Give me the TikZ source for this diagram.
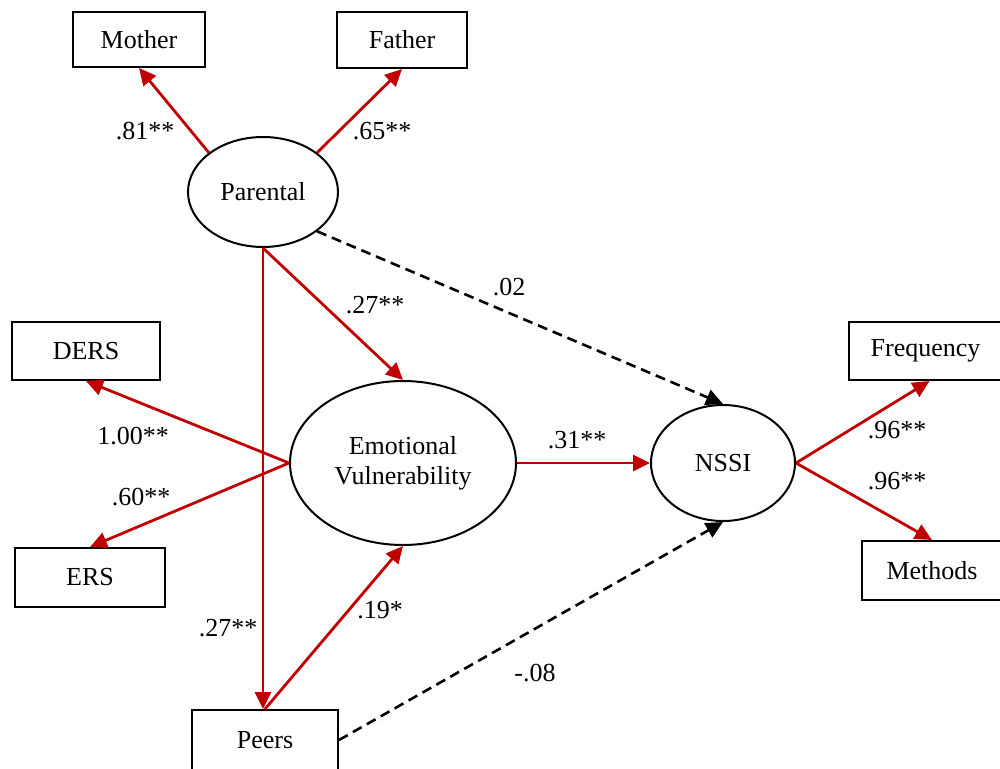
\documentclass[tikz,border=0pt]{standalone}
\usepackage{fontspec}
\setmainfont{Liberation Serif}
\usepackage{tikz}
\usetikzlibrary{shapes.geometric}
\usetikzlibrary{arrows.meta}
\usetikzlibrary{positioning}
\definecolor{SEM-RED}{RGB}{192,0,0}

\begin{document}
\begin{tikzpicture}[x=1pt,y=-1pt,every path/.style={>={Triangle[length=17pt,width=16pt]}},
		every node/.style={font=\fontsize{26}{30}\selectfont},
		obs/.style={draw,line width=2pt,inner sep=0pt},
		lat/.style={draw,ellipse,line width=2pt,inner sep=0pt,align=center},
		coef/.style={inner sep=0pt},
		sig/.style={->,SEM-RED,line width=2.8pt},
		nonsig/.style={->,black,line width=2.6pt,dash pattern=on 10pt off 6pt}]
			\useasboundingbox (0,0) rectangle (1000,768);
			\clip (0,0) rectangle (1000,768);
		
			% draw indicators
			\node (mother) at (139,39.5) [obs,minimum width=132pt,minimum height=55pt] {Mother};
			\node (father) at (402,40) [obs,minimum width=130pt,minimum height=56pt] {Father};
			\node (ders) at (86,351) [obs,minimum width=148pt,minimum height=58pt] {DERS};
			\node (ers) at (90,577.5) [obs,minimum width=150pt,minimum height=59pt] {ERS};
			\node (peers) at (265,740) [obs,minimum width=146pt,minimum height=60pt] {Peers};
			\node (freq) at (925.5,351) [obs,minimum width=153pt,minimum height=58pt] {Frequency};
			\node (methods) at (932,570.5) [obs,minimum width=140pt,minimum height=59pt] {Methods};
		
			% draw latent variables
			\node (parental) at (263,192) [lat,minimum width=150pt,minimum height=110pt] {Parental};
			\node (ev) at (403,463) [lat,minimum width=226pt,minimum height=164pt] {Emotional\\Vulnerability};
			\node (nssi) at (723,463) [lat,minimum width=144pt,minimum height=116pt] {NSSI};
		
			% draw arrows
			\draw[sig] (parental.144) -- (mother.south);
			\draw[sig] (parental.36) -- (father.south);
			\draw[sig] (parental.south) -- (ev.north);
			\draw[sig] (parental.south) -- (parental.south |- peers.north);
			\draw[nonsig] (parental.-36) -- (nssi.north);
			\draw[sig] (ev.west) -- (ders.south);
			\draw[sig] (ev.west) -- (ers.north);
			\draw[sig] (ev.east) -- (nssi.west);
			\draw[sig] (peers.north) -- (ev.south);
			\draw[nonsig] (peers.east) -- (nssi.south);
			\draw[sig] (nssi.east) -- ([xshift=4pt]freq.south);
			\draw[sig] (nssi.east) -- (methods.north);
		
			% draw coefficients
			\node (c_mother) at (145,131) [coef] {.81**};
			\node (c_father) at (382,131) [coef] {.65**};
			\node (c_ev) at (375,305) [coef] {.27**};
			\node (c_nssi) at (509,287) [coef] {.02};
			\node (c_ders) at (133,436) [coef] {1.00**};
			\node (c_ers) at (141,497) [coef] {.60**};
			\node (c_evnssi) at (577,440) [coef] {.31**};
			\node (c_peers) at (228,628) [coef] {.27**};
			\node (c_peersev) at (380,610) [coef] {.19*};
			\node (c_peersnssi) at (535,673) [coef] {-.08};
			\node (c_freq) at (897,430) [coef] {.96**};
			\node (c_methods) at (897,481) [coef] {.96**};
		\end{tikzpicture}
\end{document}
